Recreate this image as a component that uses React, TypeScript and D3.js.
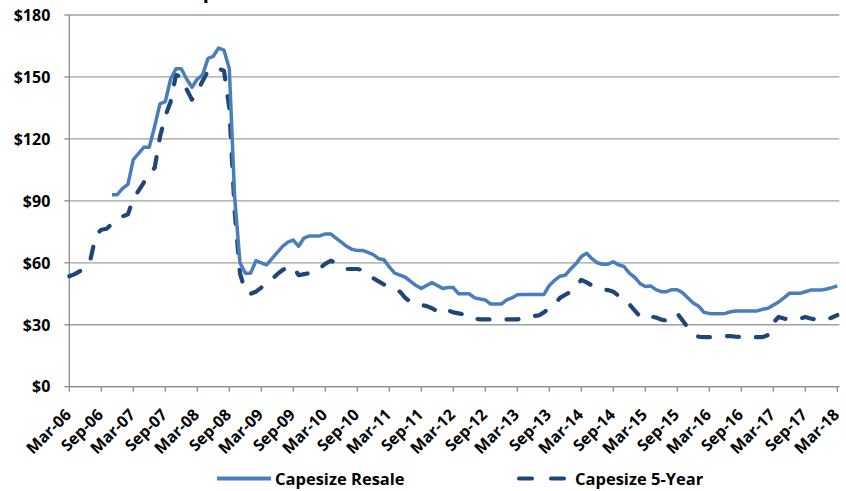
import React from "react";
import * as d3 from "d3";

// Monthly vessel values ($M), Mar-06 (index 0) through Mar-18 (index 144)
const resaleStart = 8; // first resale quote: Nov-06
const resaleValues: number[] = [
  93, 93, 96, 98, 110, 113, 116, 116, 126, 137, 138, 149, 154, 154, 149, 145,
  149, 151, 159, 160, 164, 163, 154, 92, 60, 55, 55, 61, 60, 59, 62, 65,
  68, 70, 71, 68, 72, 73, 73, 73, 74, 74, 72, 70, 68, 66.5, 66, 66,
  65, 64, 62, 61.5, 58, 55, 54, 53, 51, 49, 47.6, 49, 50.4, 49, 47.6, 48,
  48, 45, 45, 45, 43, 42.5, 42, 40, 40, 40, 42, 43, 44.5, 44.7, 44.7, 44.7,
  44.7, 44.7, 49, 51.5, 53.5, 54, 57, 59.5, 63, 64.6, 62, 60, 59.3, 59.3, 60.5, 59,
  58.2, 55, 53, 50, 48.5, 48.8, 47, 46, 46, 47, 47, 45.5, 43, 40.5, 39, 36,
  35.5, 35.3, 35.3, 35.5, 36.3, 36.7, 36.7, 36.7, 36.7, 36.7, 37.5, 38, 39.5, 41, 43, 45.2,
  45.2, 45.2, 46, 46.8, 46.8, 46.8, 47.3, 48, 48.8,
];

const fiveYearValues: number[] = [
  53.5, 54.5, 56, 57.5, 62, 73.5, 76, 76.5, 79, 81, 82.5, 83.5, 91, 95, 99, 103,
  106, 121, 131, 138, 151, 150, 144, 139, 143, 148, 153, 154, 154, 153, 135, 85,
  55, 46, 45, 46, 48, 50, 52, 54.5, 56.5, 58, 58, 54, 54.5, 55, 55.5, 57.5,
  59.5, 61, 60, 58.5, 57, 57, 57, 56.5, 54.5, 52.5, 51, 49.5, 48, 47, 46, 43,
  41, 40, 39.6, 39, 38, 36.5, 38, 37, 36, 35.5, 35, 34.7, 33, 32.6, 32.6, 32.6,
  32.6, 32.6, 32.6, 32.6, 32.6, 33, 34, 34.2, 34.5, 36, 38, 40, 43, 44.5, 46, 48.5,
  51.7, 50.5, 49, 48, 47, 46.8, 46, 44, 42.5, 40, 37, 34, 33, 34, 33.5, 32.5,
  32, 34, 35.5, 32, 28.5, 26, 24.2, 24, 24, 24, 24.2, 24.5, 24.5, 24.2, 24, 24,
  24, 24, 24, 25, 31, 33.8, 33, 32.5, 32.3, 33, 33.8, 33, 32.5, 32.3, 32.5, 33.5,
  34.7,
];

const xTickLabels: string[] = [
  "Mar-06", "Sep-06", "Mar-07", "Sep-07", "Mar-08", "Sep-08", "Mar-09", "Sep-09",
  "Mar-10", "Sep-10", "Mar-11", "Sep-11", "Mar-12", "Sep-12", "Mar-13", "Sep-13",
  "Mar-14", "Sep-14", "Mar-15", "Sep-15", "Mar-16", "Sep-16", "Mar-17", "Sep-17",
  "Mar-18",
];
const yTicks: number[] = [0, 30, 60, 90, 120, 150, 180];

const seriesNames = ["Capesize Resale", "Capesize 5-Year"];

const W = 846;
const H = 491;
const plot = { left: 69.3, right: 837.3, top: 15, bottom: 386.7 };
const FONT = "'Open Sans', 'DejaVu Sans', sans-serif";
const RESALE_COLOR = "#4A7EBB";
const FIVE_YEAR_COLOR = "#1F467A";

type Pt = { m: number; v: number };

export default function App() {
  const x = d3.scaleLinear().domain([0, 144]).range([plot.left, plot.right]);
  const y = d3.scaleLinear().domain([0, 180]).range([plot.bottom, plot.top]);

  const resale: Pt[] = resaleValues.map((v, i) => ({ m: resaleStart + i, v }));
  const fiveYear: Pt[] = fiveYearValues.map((v, i) => ({ m: i, v }));

  const line = d3
    .line<Pt>()
    .x((d) => x(d.m))
    .y((d) => y(d.v));

  const gridRight = plot.right + 2;

  return (
    <svg
      width={W}
      height={H}
      style={{ position: "absolute", left: 0, top: 0, background: "#fff" }}
      fontFamily={FONT}
    >
      {/* chart title, sitting mostly above the frame */}
      <text x={178} y={-2} fontSize={20} fontWeight={700} fill="#000">
        Capesize Vessel Values
      </text>

      {/* horizontal gridlines */}
      {yTicks.map((t) => (
        <line
          key={"g" + t}
          x1={plot.left}
          x2={gridRight}
          y1={y(t)}
          y2={y(t)}
          stroke="#A0A0A0"
          strokeWidth={1.3}
        />
      ))}

      {/* y axis */}
      <line x1={plot.left} x2={plot.left} y1={plot.top} y2={plot.bottom} stroke="#8C8C8C" strokeWidth={1.3} />
      {yTicks.map((t) => (
        <g key={"y" + t}>
          <line x1={plot.left - 5} x2={plot.left} y1={y(t)} y2={y(t)} stroke="#8C8C8C" strokeWidth={1.3} />
          <text
            x={plot.left - 19}
            y={y(t)}
            dy="0.36em"
            textAnchor="end"
            fontSize={16}
            fontWeight={700}
            fill="#000"
          >
            {"$" + t}
          </text>
        </g>
      ))}

      {/* x axis */}
      <line x1={plot.left} x2={gridRight} y1={plot.bottom} y2={plot.bottom} stroke="#8C8C8C" strokeWidth={1.3} />
      {xTickLabels.map((lab, i) => {
        const tx = x(i * 6);
        return (
          <g key={lab}>
            <line x1={tx} x2={tx} y1={plot.bottom} y2={plot.bottom + 5} stroke="#8C8C8C" strokeWidth={1.3} />
            <text
              transform={`translate(${tx + 3},${plot.bottom + 29}) rotate(-45)`}
              textAnchor="end"
              fontSize={16}
              fontWeight={700}
              fill="#000"
            >
              {lab}
            </text>
          </g>
        );
      })}

      {/* series */}
      <path
        d={line(fiveYear) || ""}
        fill="none"
        stroke={FIVE_YEAR_COLOR}
        strokeWidth={4.2}
        strokeDasharray="12 17"
        strokeLinecap="round"
        strokeLinejoin="round"
      />
      <path
        d={line(resale) || ""}
        fill="none"
        stroke={RESALE_COLOR}
        strokeWidth={3.5}
        strokeLinejoin="round"
      />

      {/* legend */}
      <g>
        <line x1={217} x2={271} y1={478.5} y2={478.5} stroke={RESALE_COLOR} strokeWidth={4} />
        <text x={275} y={485} fontSize={16.5} fontWeight={700} fill="#000">
          {seriesNames[0]}
        </text>
        <line
          x1={519}
          x2={564}
          y1={478.5}
          y2={478.5}
          stroke={FIVE_YEAR_COLOR}
          strokeWidth={4}
          strokeDasharray="13 19"
          strokeLinecap="round"
        />
        <text x={575} y={485} fontSize={16.5} fontWeight={700} fill="#000">
          {seriesNames[1]}
        </text>
      </g>
    </svg>
  );
}
